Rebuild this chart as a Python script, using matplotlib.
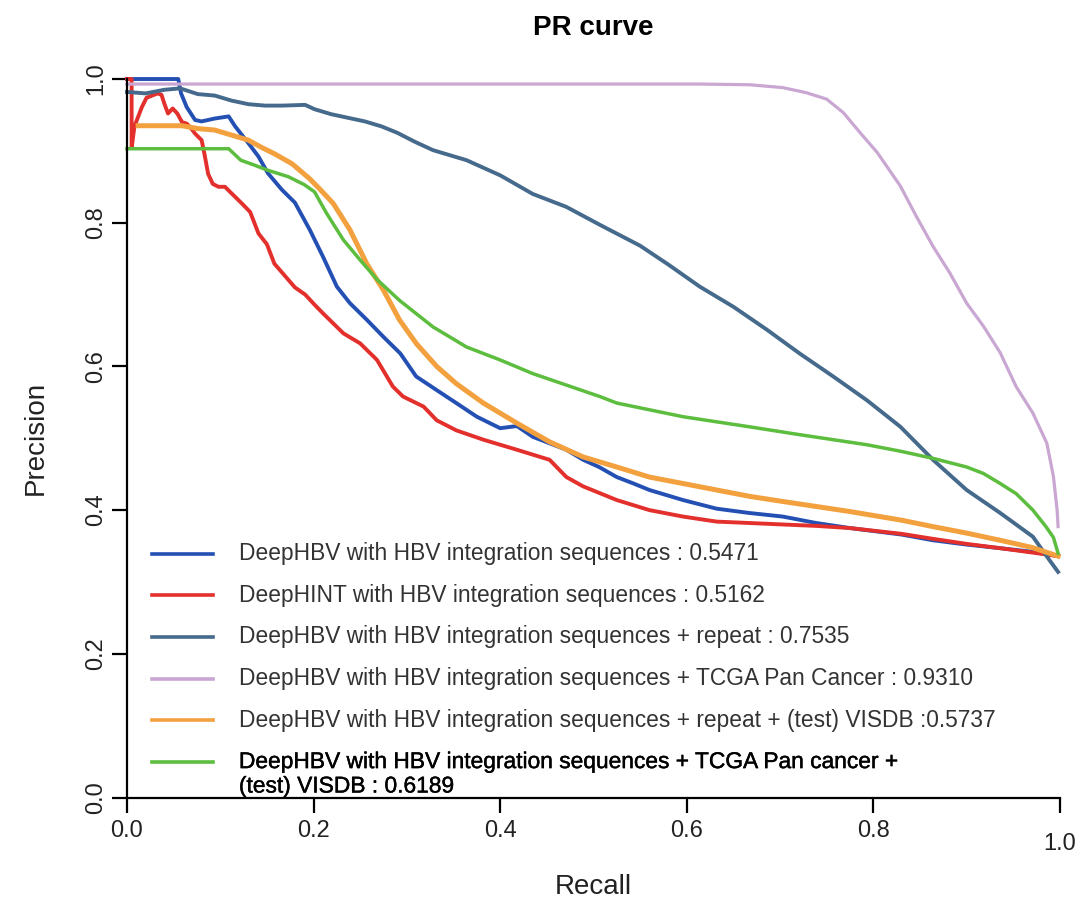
import matplotlib
matplotlib.use("Agg")
import matplotlib.pyplot as plt
import matplotlib.patheffects as pe
from matplotlib.transforms import ScaledTranslation

plt.rcParams["font.family"] = ["Liberation Sans", "DejaVu Sans"]

# PR curves (recall, precision)
blue_recall = [0, 0.055, 0.058, 0.064, 0.073, 0.080, 0.094, 0.109, 0.116, 0.130, 0.141,
               0.151, 0.166, 0.180, 0.196, 0.210, 0.225, 0.239, 0.257, 0.275, 0.293,
               0.310, 0.332, 0.353, 0.375, 0.400, 0.418, 0.435, 0.453, 0.471, 0.489,
               0.506, 0.525, 0.543, 0.560, 0.596, 0.632, 0.667, 0.703, 0.739, 0.775,
               0.83, 0.864, 0.90, 0.936, 0.97, 0.998]
blue_precision = [1.0, 1.0, 0.980, 0.961, 0.943, 0.941, 0.945, 0.948, 0.934, 0.911, 0.892,
                  0.869, 0.846, 0.828, 0.790, 0.753, 0.711, 0.688, 0.665, 0.641, 0.618,
                  0.586, 0.567, 0.549, 0.530, 0.514, 0.517, 0.502, 0.493, 0.484, 0.470,
                  0.460, 0.446, 0.437, 0.428, 0.414, 0.402, 0.396, 0.391, 0.382, 0.375,
                  0.366, 0.358, 0.352, 0.347, 0.342, 0.336]

red_recall = [0, 0.005, 0.005, 0.008, 0.016, 0.021, 0.033, 0.037, 0.040, 0.044, 0.049,
              0.054, 0.059, 0.064, 0.069, 0.073, 0.080, 0.083, 0.087, 0.092, 0.098,
              0.105, 0.112, 0.123, 0.132, 0.141, 0.150, 0.158, 0.168, 0.180, 0.191,
              0.201, 0.210, 0.232, 0.250, 0.268, 0.285, 0.296, 0.318, 0.332, 0.353,
              0.382, 0.418, 0.453, 0.471, 0.489, 0.525, 0.560, 0.596, 0.632, 0.668,
              0.703, 0.739, 0.775, 0.83, 0.864, 0.90, 0.936, 0.97, 0.998]
red_precision = [1.0, 1.0, 0.904, 0.934, 0.961, 0.974, 0.980, 0.978, 0.966, 0.952, 0.959,
                 0.952, 0.940, 0.938, 0.931, 0.924, 0.915, 0.896, 0.868, 0.854, 0.850,
                 0.850, 0.841, 0.827, 0.815, 0.785, 0.770, 0.743, 0.728, 0.710, 0.700,
                 0.686, 0.674, 0.646, 0.632, 0.609, 0.572, 0.558, 0.544, 0.525, 0.511,
                 0.498, 0.484, 0.470, 0.446, 0.433, 0.414, 0.400, 0.391, 0.384, 0.382,
                 0.380, 0.378, 0.375, 0.367, 0.360, 0.353, 0.347, 0.341, 0.336]

repeat_recall = [0, 0.02, 0.04, 0.057, 0.076, 0.094, 0.112, 0.130, 0.148, 0.166, 0.191,
                 0.201, 0.219, 0.237, 0.255, 0.273, 0.290, 0.308, 0.328, 0.364, 0.400,
                 0.435, 0.471, 0.507, 0.55, 0.58, 0.614, 0.650, 0.686, 0.721, 0.757,
                 0.793, 0.829, 0.864, 0.900, 0.936, 0.971, 0.989, 0.998]
repeat_precision = [0.982, 0.980, 0.985, 0.987, 0.979, 0.977, 0.970, 0.965, 0.963, 0.963,
                    0.964, 0.958, 0.951, 0.946, 0.941, 0.934, 0.925, 0.913, 0.901, 0.887,
                    0.866, 0.840, 0.822, 0.797, 0.768, 0.742, 0.711, 0.683, 0.651, 0.618,
                    0.586, 0.553, 0.516, 0.470, 0.428, 0.396, 0.363, 0.330, 0.314]

tcga_recall = [0, 0.614, 0.668, 0.703, 0.728, 0.750, 0.768, 0.786, 0.804, 0.829, 0.846,
               0.864, 0.882, 0.900, 0.918, 0.936, 0.953, 0.971, 0.986, 0.993, 0.997, 0.998]
tcga_precision = [0.993, 0.993, 0.992, 0.988, 0.981, 0.972, 0.953, 0.925, 0.898, 0.851,
                  0.809, 0.767, 0.730, 0.688, 0.656, 0.619, 0.572, 0.535, 0.493, 0.447,
                  0.400, 0.377]

visdb_recall = [0.012, 0.059, 0.076, 0.094, 0.112, 0.130, 0.144, 0.158, 0.177, 0.196,
                0.208, 0.221, 0.239, 0.257, 0.275, 0.292, 0.310, 0.332, 0.353, 0.382,
                0.418, 0.453, 0.489, 0.525, 0.560, 0.596, 0.632, 0.668, 0.703, 0.739,
                0.775, 0.83, 0.864, 0.90, 0.936, 0.97, 0.998]
visdb_precision = [0.935, 0.935, 0.931, 0.929, 0.922, 0.915, 0.905, 0.896, 0.882, 0.861,
                   0.845, 0.827, 0.790, 0.743, 0.706, 0.665, 0.632, 0.600, 0.576, 0.549,
                   0.521, 0.495, 0.474, 0.460, 0.446, 0.437, 0.428, 0.419, 0.412, 0.405,
                   0.398, 0.386, 0.377, 0.368, 0.358, 0.348, 0.336]

tcga_visdb_recall = [0, 0.109, 0.122, 0.137, 0.151, 0.173, 0.190, 0.201, 0.214, 0.232,
                     0.250, 0.268, 0.292, 0.328, 0.364, 0.400, 0.435, 0.471, 0.507, 0.525,
                     0.596, 0.667, 0.721, 0.757, 0.793, 0.829, 0.864, 0.900, 0.918, 0.936,
                     0.953, 0.971, 0.985, 0.993, 0.998]
tcga_visdb_precision = [0.903, 0.903, 0.887, 0.880, 0.873, 0.864, 0.853, 0.843, 0.813,
                        0.776, 0.748, 0.721, 0.692, 0.655, 0.627, 0.609, 0.590, 0.574,
                        0.558, 0.549, 0.530, 0.516, 0.505, 0.498, 0.491, 0.482, 0.472,
                        0.460, 0.451, 0.437, 0.423, 0.400, 0.377, 0.362, 0.340]

labels = [
    "DeepHBV with HBV integration sequences : 0.5471",
    "DeepHINT with HBV integration sequences : 0.5162",
    "DeepHBV with HBV integration sequences + repeat : 0.7535",
    "DeepHBV with HBV integration sequences + TCGA Pan Cancer : 0.9310",
    "DeepHBV with HBV integration sequences + repeat + (test) VISDB :0.5737",
    "DeepHBV with HBV integration sequences + TCGA Pan cancer +",
]
last_label_cont = "(test) VISDB : 0.6189"

curves = [
    (blue_recall, blue_precision, "#2450b4", 2.8),
    (red_recall, red_precision, "#e3302c", 2.8),
    (repeat_recall, repeat_precision, "#466a8c", 2.8),
    (tcga_recall, tcga_precision, "#c9a7d2", 2.3),
    (visdb_recall, visdb_precision, "#f3a03e", 3.6),
    (tcga_visdb_recall, tcga_visdb_precision, "#5cbd3e", 2.5),
]

fig = plt.figure(figsize=(10.87, 8.99), dpi=100)
ax = fig.add_axes([0.1168, 0.1129, 0.8583, 0.7992])

for rec, prec, color, lw in curves:
    ax.plot(rec, prec, color=color, lw=lw, clip_on=False, solid_joinstyle="round")

ax.set_xlim(0, 1)
ax.set_ylim(0, 1)
ticks = [0, 0.2, 0.4, 0.6, 0.8, 1.0]
ax.set_xticks(ticks)
ax.set_yticks(ticks)
ax.set_xticklabels([f"{t:.1f}" for t in ticks])
ax.set_yticklabels([f"{t:.1f}" for t in ticks], rotation=90, va="center")

for side in ["top", "right"]:
    ax.spines[side].set_visible(False)
for side in ["left", "bottom"]:
    ax.spines[side].set_linewidth(1.6)
    ax.spines[side].set_bounds(0, 1)

ax.tick_params(axis="both", direction="out", length=10.5, width=1.6,
               labelsize=17, colors="black", labelcolor="#222222")
ax.tick_params(axis="x", pad=6)
ax.tick_params(axis="y", pad=4)

# the 1.0 label sits a little lower in the original
last = ax.get_xticklabels()[-1]
last.set_transform(last.get_transform() + ScaledTranslation(0, -9 / 72, fig.dpi_scale_trans))

ax.set_xlabel("Recall", fontsize=20, labelpad=14, color="#222222")
ax.set_ylabel("Precision", fontsize=20, labelpad=26, color="#222222")
ax.set_title("PR curve", fontsize=20, fontweight="bold", pad=32)

# legend drawn by hand (last entry wraps onto a second line)
row_y = 0.339
row_step = 0.0578
for i, (label, (_, _, color, lw)) in enumerate(zip(labels, curves)):
    y = row_y - i * row_step
    ax.plot([0.027, 0.092], [y, y], color=color, lw=2.6, transform=ax.transAxes)
    txt_color = "#000000" if i == len(labels) - 1 else "#333333"
    t = ax.text(0.12, y, label, fontsize=16.4, color=txt_color, va="center",
                ha="left", transform=ax.transAxes)
    if i == len(labels) - 1:
        t.set_path_effects([pe.withStroke(linewidth=0.3, foreground="black")])
        t2 = ax.text(0.12, y - 0.034, last_label_cont, fontsize=16.4, color="black",
                     va="center", ha="left", transform=ax.transAxes)
        t2.set_path_effects([pe.withStroke(linewidth=0.3, foreground="black")])

fig.savefig("out.png", dpi=100)
